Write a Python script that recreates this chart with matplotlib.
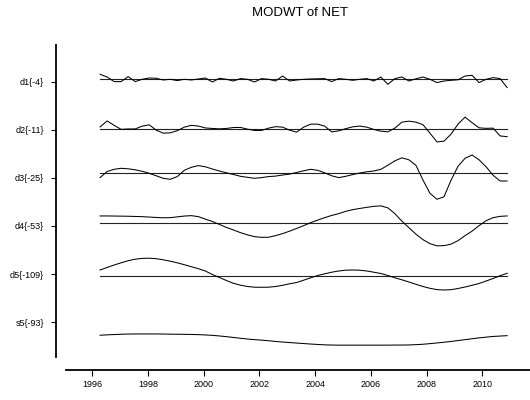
import numpy as np
import matplotlib
matplotlib.use("Agg")
from matplotlib import pyplot as plt

plt.rcParams['font.family'] = ['Liberation Sans', 'DejaVu Sans']

# quarterly MODWT components of NET (zero = own baseline)
anos = np.linspace(1996.28, 2010.89, 59)
rotulos = ['d1{-4}', 'd2{-11}', 'd3{-25}', 'd4{-53}', 'd5{-109}', 's5{-93}']

d1 = [5, 2.3, -2.3, -2.3, 2.7, -2.3, 0, 1.3, 1, -0.7,
      0, -1.3, 0, -0.7, 0.3, 1.3, -2.7, 1, 0, -1.7,
      0.7, 0, -2.7, 0.7, 0, -1.7, 3.3, -1.7, -0.7, 0,
      0.3, 0.5, 0.7, -2.3, 0.7, 0, -1, 0, 0.7, -1.7,
      2.3, -5, 0.7, 2.3, -1.7, 0.5, 2.3, 0, -3.3, -1.7,
      -1, -0.5, 3.3, 4, -3.3, 0, 1.7, 0.7, -8.3]
d2 = [1.7, 7.7, 3.3, -0.7, -0.3, -0.3, 2.5, 3.8, -1.5, -4.5,
      -4.2, -2, 1.5, 3.3, 2.6, 0.7, 0.2, -0.2, 0.2, 1.1,
      1.2, -0.5, -1.8, -1.8, 0.5, 2, 1.5, -1.5, -3.5, 1.5,
      4.5, 4.5, 2.5, -3.2, -2.2, 0, 1.8, 2.6, 1.5, -0.8,
      -2.5, -3.2, 0.5, 6.5, 7.5, 6.5, 4, -4.5, -13.3, -12.5,
      -5.5, 4.5, 11.5, 6, 0.8, 0.3, 0.5, -7.3, -8]
d3 = [-4.3, 1.8, 4, 5, 4.5, 3.5, 2, 0, -2.5, -5,
      -6, -3.3, 3, 6, 7.7, 6.5, 4.3, 2.3, 0.5, -1.2,
      -3, -4, -5, -4.3, -3.3, -2.8, -1.7, -0.8, 0.8, 2.5,
      4, 3, 0.5, -2.5, -4.3, -3, -1.3, 0.3, 1.5, 2.3,
      4, 8, 12.5, 15.5, 13.5, 8, -6.7, -20, -26, -23.5,
      -7, 7, 15, 18.3, 13.5, 6.5, -2, -7.7, -7.7]
d4 = [6.7, 6.7, 6.6, 6.5, 6.4, 6.2, 6, 5.6, 5.2, 4.9,
      5, 5.8, 6.6, 7, 6, 3.5, 1.2, -1.8, -4.8, -7.3,
      -10, -12.2, -14, -14.7, -14.6, -13, -11, -8.5, -5.8, -3,
      0, 2.5, 5, 7.2, 9, 11.3, 13, 14.2, 15.3, 16.3,
      16.8, 14.8, 9, 1.5, -5, -11.5, -17, -21, -23.2, -23,
      -21.5, -18, -13, -8.5, -3, 2, 5, 6.3, 6.7]
d5 = [6, 8.5, 11, 13.2, 15.3, 16.8, 17.6, 17.8, 17.3, 16.2,
      14.8, 13.2, 11.3, 9.3, 7.3, 5, 1.5, -1.5, -4.5, -7.3,
      -9.2, -10.5, -11.2, -11.3, -11.2, -10.5, -9.3, -7.8, -6.5, -4.2,
      -1.8, 0.5, 2.2, 3.8, 5, 5.8, 6, 5.8, 5, 3.8,
      2.5, 0.5, -1.8, -3.8, -6, -8.3, -10.5, -12.3, -13.6, -14,
      -13.7, -12.5, -11, -9.3, -7.5, -5, -2.5, 0.3, 2.7]
s5 = [-13, -12.6, -12.3, -12, -11.8, -11.7, -11.7, -11.7, -11.7, -11.8,
      -11.9, -12, -12.1, -12.2, -12.4, -12.7, -13.1, -13.7, -14.4, -15.2,
      -16, -16.8, -17.4, -17.9, -18.5, -19.2, -19.8, -20.3, -20.8, -21.3,
      -21.8, -22.2, -22.6, -22.8, -22.9, -22.9, -22.9, -22.9, -22.9, -22.9,
      -22.9, -22.9, -22.8, -22.8, -22.7, -22.4, -22, -21.4, -20.7, -20,
      -19.2, -18.3, -17.4, -16.5, -15.6, -14.9, -14.2, -13.8, -13.4]

componentes = [d1, d2, d3, d4, d5, s5]

W, H = 530, 400
fig = plt.figure(figsize=(W / 100, H / 100), dpi=100)
# axes box in pixels: x 66..530, y 45..357
ax = fig.add_axes([66 / W, 1 - 357 / H, (530 - 66) / W, (357 - 45) / H])

x0, x1 = 1995.056, 2011.71
niveis = 81.5 + 48.15 * np.arange(len(rotulos))
desloc_base = [-2.2, -1.0, -4.5, -3.3, 1.9]  # baseline sits a bit off the tick

for k, serie in enumerate(componentes):
    base = niveis[k] + (desloc_base[k] if k < len(desloc_base) else 0)
    if k < len(desloc_base):
        ax.axhline(base, color='#222222', lw=0.8, zorder=1,
                   xmin=(anos[0] - x0) / (x1 - x0),
                   xmax=(anos[-1] - x0) / (x1 - x0))
    ax.plot(anos, base - np.array(serie), color='black', lw=0.75, zorder=2)

ax.set_xlim(x0, x1)
ax.set_ylim(357, 45)

ax.set_yticks(niveis)
ax.set_yticklabels(rotulos)
ax.set_xticks(range(1996, 2011, 2))
ax.set_xticklabels([str(a) for a in range(1996, 2011, 2)])

for lado in ['top', 'right']:
    ax.spines[lado].set_visible(False)
ax.spines['left'].set_position(('outward', 7.2))
ax.spines['bottom'].set_position(('outward', 9.4))
ax.spines['left'].set_linewidth(1.3)
ax.spines['bottom'].set_linewidth(1.3)
ax.tick_params(axis='y', length=3.5, width=0.8, pad=5, labelsize=6.5)
ax.tick_params(axis='x', length=4.3, width=0.8, pad=3, labelsize=6.5)

fig.text(300 / W, 1 - 13 / H, 'MODWT of NET', ha='center', va='center', fontsize=9.5)

fig.savefig('out.png', dpi=100)
